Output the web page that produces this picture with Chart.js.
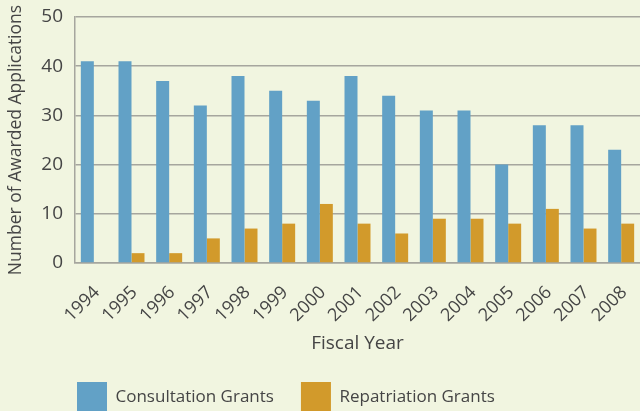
<!DOCTYPE html>
<html>
<head>
<meta charset="utf-8">
<script src="https://cdn.jsdelivr.net/npm/chart.js@4"></script>
<style>
  html, body { margin: 0; padding: 0; background: #f1f5e0; }
  #wrap { width: 640px; height: 411px; }
</style>
</head>
<body>
<div id="wrap"><canvas id="grantChart" width="640" height="411"></canvas></div>
<script>
const years = ["1994", "1995", "1996", "1997", "1998", "1999", "2000", "2001",
               "2002", "2003", "2004", "2005", "2006", "2007", "2008"];
const consultationGrants = [41, 41, 37, 32, 38, 35, 33, 38, 34, 31, 31, 20, 28, 28, 23];
const repatriationGrants = [0, 2, 2, 5, 7, 8, 12, 8, 6, 9, 9, 8, 11, 7, 8];
const yTicks = [0, 10, 20, 30, 40, 50];

const textColor = "#454545";
const gridColor = "#a6a69e";
const fontFamily = "'Open Sans', sans-serif";

/* nudge the legend sideways so it sits where the original one does */
const legendShift = {
    id: "legendShift",
    afterLayout(chart) {
        const lg = chart.legend;
        lg.left += 45;
        lg.right += 45;
    }
};

new Chart(document.getElementById("grantChart"), {
    type: "bar",
    data: {
        labels: years,
        datasets: [{
            label: "Consultation Grants",
            data: consultationGrants,
            backgroundColor: "#62a1c6"
        }, {
            label: "Repatriation Grants",
            data: repatriationGrants,
            backgroundColor: "#d29a2b"
        }]
    },
    options: {
        responsive: false,
        animation: false,
        categoryPercentage: 0.69,
        barPercentage: 1,
        layout: { padding: { top: 17, right: 0, left: 5, bottom: 0 } },
        plugins: {
            tooltip: { enabled: false },
            legend: {
                position: "bottom",
                align: "start",
                maxHeight: 56,
                labels: {
                    boxWidth: 30,
                    boxHeight: 30,
                    padding: 27,
                    color: textColor,
                    font: { family: fontFamily, size: 17 }
                }
            }
        },
        scales: {
            x: {
                afterFit(scale) {
                    // fixed band for rotated years + title, no extra overhang
                    scale.height = 92;
                    scale.paddingLeft = 0;
                    scale.paddingRight = 0;
                },
                grid: { display: false, drawTicks: false },
                border: { display: true, color: gridColor, width: 1.5 },
                ticks: {
                    color: textColor,
                    font: { family: fontFamily, size: 18 },
                    minRotation: 45,
                    maxRotation: 45,
                    padding: 19,
                    labelOffset: 3
                },
                title: {
                    display: true,
                    text: "Fiscal Year",
                    color: textColor,
                    font: { family: fontFamily, size: 19 },
                    padding: { top: 4, bottom: 0 }
                }
            },
            y: {
                min: 0,
                max: 50,
                afterBuildTicks(axis) {
                    axis.ticks = yTicks.map(v => ({ value: v }));
                },
                afterFit(scale) {
                    scale.width = 70;
                    scale.paddingTop = 0;
                    scale.paddingBottom = 0;
                },
                grid: { color: gridColor, lineWidth: 1.5, drawTicks: false },
                border: { display: true, color: gridColor, width: 1.5 },
                ticks: {
                    color: textColor,
                    font: { family: fontFamily, size: 19 },
                    padding: 12
                },
                title: {
                    display: true,
                    text: "Number of Awarded Applications",
                    color: textColor,
                    font: { family: fontFamily, size: 17.5 },
                    padding: { top: 1, bottom: 6 }
                }
            }
        }
    },
    plugins: [legendShift]
});
</script>
</body>
</html>
